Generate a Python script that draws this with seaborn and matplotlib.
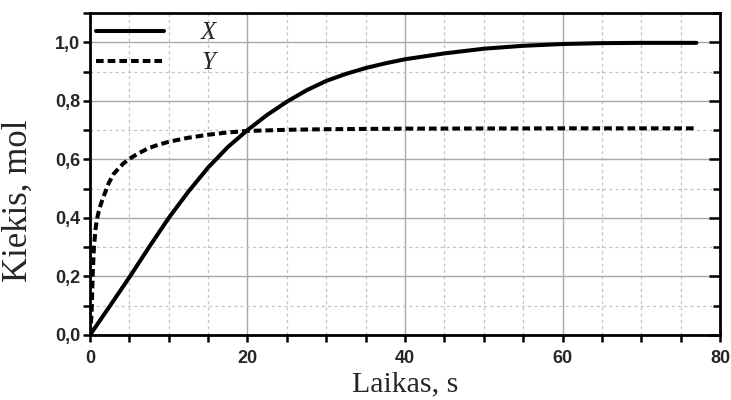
import numpy as np
import pandas as pd
import matplotlib
matplotlib.use("Agg")
import matplotlib.pyplot as plt
from matplotlib.ticker import MultipleLocator, FuncFormatter
import seaborn as sns

# Data
t_x = [0, 2.5, 5, 7.5, 10, 12.5, 15, 17.5, 20, 22.5, 25, 27.5, 30, 32.5, 35, 37.5, 40, 45, 50, 55, 60, 65, 70, 77]
x_vals = [0, 0.098, 0.197, 0.30, 0.40, 0.49, 0.572, 0.642, 0.70, 0.752, 0.797, 0.836, 0.868,
          0.892, 0.912, 0.928, 0.942, 0.962, 0.978, 0.988, 0.994, 0.997, 0.998, 0.998]

t_y = [0, 0.2, 0.35, 0.5, 0.7, 0.85, 1.05, 1.3, 1.6, 1.9, 2.4, 3.0, 3.6, 4.2, 5.0, 6.0, 7.4, 8.7,
       10, 12.5, 15, 17.5, 20, 25, 30, 40, 60, 77]
y_vals = [0, 0.07, 0.21, 0.30, 0.36, 0.39, 0.415, 0.44, 0.465, 0.485, 0.52, 0.55, 0.568, 0.585,
          0.602, 0.618, 0.638, 0.65, 0.66, 0.674, 0.684, 0.692, 0.697, 0.701, 0.703, 0.705,
          0.706, 0.706]

series_names = ["X", "Y"]
x_label = "Laikas, s"
y_label = "Kiekis, mol"

df = pd.concat([
    pd.DataFrame({"t": t_x, "v": x_vals, "s": series_names[0]}),
    pd.DataFrame({"t": t_y, "v": y_vals, "s": series_names[1]}),
])

sns.set_style("white")
plt.rcParams["font.family"] = ["Liberation Sans", "DejaVu Sans"]

fig = plt.figure(figsize=(7.31, 4.0), dpi=100)
ax = fig.add_axes([0.1231, 0.1625, 0.8619, 0.805])

sns.lineplot(data=df[df.s == "X"], x="t", y="v", ax=ax, color="black", lw=2.9,
             label=series_names[0], sort=False)
sns.lineplot(data=df[df.s == "Y"], x="t", y="v", ax=ax, color="black", lw=2.9,
             label=series_names[1], sort=False, dashes=False)
ax.lines[1].set_dashes([1.9, 1.0])
for ln in ax.lines:
    ln.set_solid_joinstyle("round")
    ln.set_dash_capstyle("butt")

ax.set_xlim(0, 80)
ax.set_ylim(0, 1.1)
ax.xaxis.set_major_locator(MultipleLocator(20))
ax.xaxis.set_minor_locator(MultipleLocator(5))
ax.yaxis.set_major_locator(MultipleLocator(0.2))
ax.yaxis.set_minor_locator(MultipleLocator(0.1))
ax.yaxis.set_major_formatter(FuncFormatter(lambda v, p: f"{v:.1f}".replace(".", ",")))
ax.xaxis.set_major_formatter(FuncFormatter(lambda v, p: f"{v:.0f}"))

ax.grid(True, which="major", color="#a8a8a8", lw=1.0, ls="-")
ax.grid(True, which="minor", color="#c4c4c4", lw=0.9, ls=(0, (2.5, 2.5)))
ax.set_axisbelow(True)

for sp in ax.spines.values():
    sp.set_visible(True)
    sp.set_color("black")
    sp.set_linewidth(2.0)

ax.tick_params(which="both", direction="out", left=True, bottom=True, top=False, right=False,
               color="black", width=1.8)
ax.tick_params(which="major", length=5, labelsize=13)
ax.tick_params(which="minor", length=5)
ax.tick_params(axis="x", which="major", pad=6)
ax.tick_params(axis="y", which="major", pad=2)
for lab in ax.get_xticklabels() + ax.get_yticklabels():
    lab.set_fontweight("bold")

ax2 = ax.twinx()
ax2.set_ylim(ax.get_ylim())
ax2.yaxis.set_major_locator(MultipleLocator(0.2))
ax2.yaxis.set_minor_locator(MultipleLocator(0.1))
ax2.tick_params(which="both", direction="in", right=True, labelright=False, width=1.8, color="black")
ax2.tick_params(which="major", length=8)
ax2.tick_params(which="minor", length=5)
for sp in ax2.spines.values():
    sp.set_visible(False)

ax.set_xlabel(x_label, family=["Liberation Serif"], fontsize=21.5, labelpad=3)
ax.set_ylabel(y_label, family=["Liberation Serif"], fontsize=25)
ax.yaxis.set_label_coords(-0.087, 0.416)

leg = ax.legend(loc="upper left", bbox_to_anchor=(-0.026, 1.042), frameon=False,
                handlelength=2.7, handletextpad=1.5, labelspacing=0.3,
                prop={"family": "Liberation Serif", "style": "italic", "size": 18})

fig.savefig("out.png", dpi=100)
